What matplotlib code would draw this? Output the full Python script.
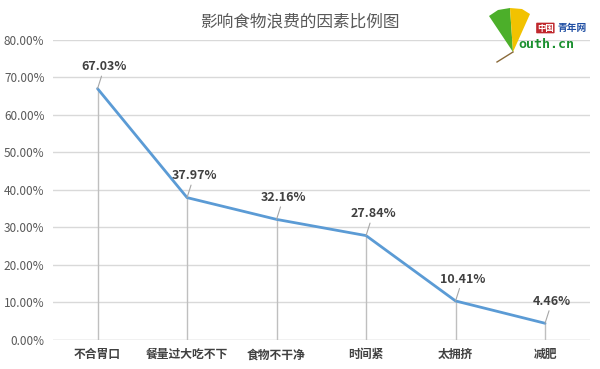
import numpy as np
import matplotlib
matplotlib.use('Agg')
import matplotlib.pyplot as plt
from matplotlib.patches import Polygon

plt.rcParams['font.family'] = ['Noto Sans CJK SC', 'DejaVu Sans']

# data
categories = ['不合胃口', '餐量过大吃不下', '食物不干净', '时间紧', '太拥挤', '减肥']
values = [67.03, 37.97, 32.16, 27.84, 10.41, 4.46]
yticks = [0, 10, 20, 30, 40, 50, 60, 70, 80]
title = '影响食物浪费的因素比例图'

W, H = 600, 369
fig = plt.figure(figsize=(6, 3.69), dpi=100)
ax = fig.add_axes([0.088, 0.0786, 0.895, 0.813])

x = np.arange(len(categories))

# drop lines from each point to the axis
ax.vlines(x, 0, values, color='#bfbfbf', lw=1, zorder=2)
ax.plot(x, values, color='#5b9bd5', lw=2, zorder=3, solid_capstyle='round')

# data labels with short leader lines
for xi, v in zip(x, values):
    ax.annotate('%.2f%%' % v, xy=(xi, v), xytext=(5, 11), textcoords='offset points',
                ha='center', va='bottom', fontsize=9, fontweight='bold', color='#404040',
                arrowprops=dict(arrowstyle='-', color='#a6a6a6', lw=0.8,
                                shrinkA=0, shrinkB=0), zorder=4)

ax.set_xlim(-0.5, len(categories) - 0.5)
ax.set_ylim(0, 80)
ax.set_yticks(yticks)
ax.set_yticklabels(['%.2f%%' % t for t in yticks], fontsize=8.5, color='#595959')
ax.set_xticks(x)
ax.set_xticklabels(categories, fontsize=8.5, color='#404040', fontweight='bold')
ax.tick_params(length=0, pad=6)
ax.grid(axis='y', color='#d9d9d9', lw=1)
ax.set_axisbelow(True)
for s in ax.spines.values():
    s.set_visible(False)
ax.axhline(0, color='#d9d9d9', lw=1, zorder=1)

fig.text(0.5, 1 - 22 / H, title, ha='center', va='center', fontsize=12, color='#595959')

# logo (rough), pixel coords -> figure coords
def px(pts):
    return [[a / W, 1 - b / H] for a, b in pts]

green = Polygon(px([(489, 16), (498, 10), (510, 8), (513, 52)]), closed=True,
                transform=fig.transFigure, facecolor='#4caf2a', edgecolor='none')
yellow = Polygon(px([(510, 8), (522, 9), (530, 14), (513, 52)]), closed=True,
                 transform=fig.transFigure, facecolor='#f2c200', edgecolor='none')
fig.patches.extend([green, yellow])
fig.lines.append(plt.Line2D([513 / W, 497 / W], [1 - 52 / H, 1 - 62 / H],
                            transform=fig.transFigure, color='#8a6a3a', lw=1))
fig.text(537 / W, 1 - 28 / H, '中国', ha='left', va='center', fontsize=6, color='white',
         fontweight='bold', bbox=dict(boxstyle='round,pad=0.1', fc='#c0282d', ec='none'))
fig.text(558 / W, 1 - 28 / H, '青年网', ha='left', va='center', fontsize=7, color='#1f4ea3',
         fontweight='bold')
fig.text(518 / W, 1 - 44 / H, 'outh.cn', ha='left', va='center', fontsize=9.5,
         fontweight='bold', color='#1a8f2e', family='DejaVu Sans Mono')

fig.savefig('out.png', dpi=100, facecolor='white')
